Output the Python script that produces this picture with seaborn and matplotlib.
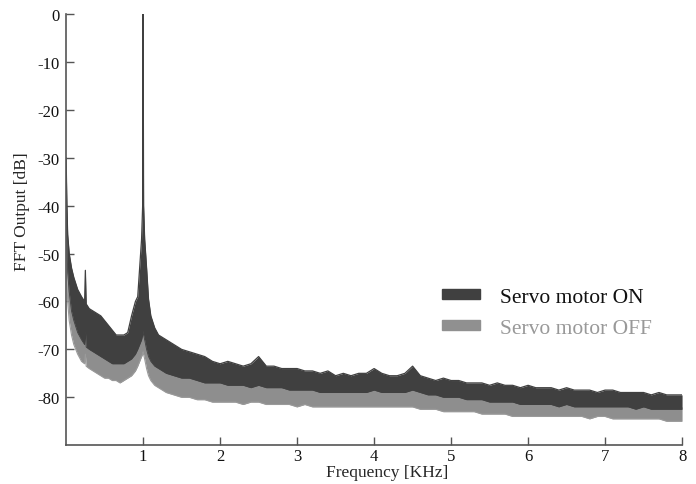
import numpy as np
import pandas as pd
import seaborn as sns
import matplotlib
matplotlib.use("Agg")
import matplotlib.pyplot as plt
from matplotlib.patches import Patch

# frequency grid [KHz]: dense part below 2 KHz, then 0.1 KHz steps
freq_lo = [0, 0.01, 0.02, 0.04, 0.07,
           0.1, 0.15, 0.2, 0.24, 0.25,
           0.26, 0.3, 0.35, 0.4, 0.45,
           0.5, 0.55, 0.6, 0.65, 0.7,
           0.75, 0.8, 0.85, 0.9, 0.93,
           0.955, 0.98, 0.994, 1.0, 1.006,
           1.02, 1.045, 1.07, 1.1, 1.15,
           1.2, 1.3, 1.4, 1.5, 1.6,
           1.7, 1.8, 1.9]
freq_hi = list(np.round(np.arange(2.0, 8.001, 0.1), 1))

# servo motor ON: top / bottom of the band [dB]
on_top_lo = [-30, -40, -46, -50, -53,
             -55, -57.5, -59, -60, -53.5,
             -60.5, -61.5, -62, -62.5, -63,
             -64, -65, -66, -67, -67,
             -67, -66.5, -63, -60, -59,
             -53, -47, -40, 0, -40,
             -47, -53, -59.5, -63, -65.5,
             -67, -68, -69, -70, -70.5,
             -71, -71.5, -72.5]
on_top_hi = [-73, -72.5, -73, -73.5, -73, -71.5, -73.5, -73.5, -74, -74,
             -74, -74.5, -74.5, -75, -74.5, -75.5, -75, -75.5, -75, -75,
             -74, -75, -75.5, -75.5, -75, -73.5, -75.5, -76, -76.5, -76,
             -76.5, -76.5, -77, -77, -77, -77.5, -77, -77.5, -77.5, -78,
             -77.5, -78, -78, -78, -78.5, -78, -78.5, -78.5, -78.5, -79,
             -78.5, -78.5, -79, -79, -79, -79, -79.5, -79, -79.5, -79.5,
             -79.5]
on_bot_lo = [-38, -48, -54, -58, -62,
             -64, -66.5, -68, -69, -66,
             -69.5, -70, -70.5, -71, -71.5,
             -72, -72.5, -73, -73, -73,
             -73, -72.5, -72, -71, -70,
             -69, -68, -67, -66, -67,
             -68, -70, -71.5, -72.5, -73.5,
             -74, -75, -75.5, -76, -76,
             -76.5, -77, -77]
on_bot_hi = [-77, -77.5, -77.5, -77.5, -78, -77.5, -78, -78, -78, -78.5,
             -78.5, -78.5, -78.5, -79, -79, -79, -79, -79, -79, -79,
             -78.5, -79, -79, -79, -79, -78.5, -79, -79.5, -79.5, -80,
             -80, -80, -80.5, -80.5, -80.5, -81, -81, -81, -81, -81.5,
             -81.5, -81.5, -81.5, -81.5, -82, -81.5, -82, -82, -82, -82,
             -82, -82, -82, -82, -82.5, -82, -82.5, -82.5, -82.5, -82.5,
             -82.5]

# servo motor OFF: top / bottom of the band [dB]
off_top_lo = [-32, -43, -49, -53, -56,
              -58, -60.5, -62, -63, -57,
              -63.5, -64.5, -65, -65.5, -66,
              -67, -68, -69, -70, -70,
              -70, -69.5, -66, -63, -62,
              -56, -50, -43, -2, -43,
              -50, -56, -62.5, -66, -68.5,
              -70, -71, -72, -73, -73.5,
              -74, -74.5, -75.5]
off_top_hi = [-76, -75.5, -76, -76.5, -76, -75, -76.5, -76.5, -77, -77,
              -77, -77.5, -77.5, -78, -77.5, -78, -78, -78, -78, -78,
              -77.5, -78, -78, -78, -78, -77.5, -78.5, -78.5, -79, -79,
              -79, -79, -79.5, -79.5, -79.5, -80, -79.5, -80, -80, -80.5,
              -80, -80.5, -80.5, -80.5, -81, -80.5, -81, -81, -81, -81.5,
              -81, -81, -81.5, -81.5, -81.5, -81.5, -82, -81.5, -82, -82,
              -82]
off_bot_lo = [-45, -55, -60, -64, -67,
              -69, -71, -72.5, -73, -71,
              -73.5, -74, -74.5, -75, -75.5,
              -76, -76, -76.5, -76.5, -77,
              -76.5, -76, -75.5, -74.5, -73.5,
              -72.5, -71.5, -71, -70.5, -71,
              -72, -74, -75.5, -76.5, -77.5,
              -78, -79, -79.5, -80, -80,
              -80.5, -80.5, -81]
off_bot_hi = [-81, -81, -81, -81.5, -81, -81, -81.5, -81.5, -81.5, -81.5,
              -82, -81.5, -82, -82, -82, -82, -82, -82, -82, -82,
              -82, -82, -82, -82, -82, -82, -82.5, -82.5, -82.5, -83,
              -83, -83, -83, -83, -83.5, -83.5, -83.5, -83.5, -84, -84,
              -84, -84, -84, -84, -84, -84, -84, -84, -84.5, -84,
              -84, -84.5, -84.5, -84.5, -84.5, -84.5, -84.5, -84.5, -85, -85,
              -85]

x_ticks = [1, 2, 3, 4, 5, 6, 7, 8]
y_ticks = [0, -10, -20, -30, -40, -50, -60, -70, -80]
labels = ["Servo motor ON", "Servo motor OFF"]

freq = freq_lo + freq_hi
df = pd.DataFrame({
    "freq": freq,
    "on_top": on_top_lo + on_top_hi,
    "on_bot": on_bot_lo + on_bot_hi,
    "off_top": off_top_lo + off_top_hi,
    "off_bot": off_bot_lo + off_bot_hi,
})

sns.set_theme(style="ticks")
plt.rcParams["font.family"] = ["Liberation Serif", "DejaVu Serif"]
plt.rcParams["axes.unicode_minus"] = False

c_on = "#404040"
c_off = "#8e8e8e"
c_axis = "#555555"

fig = plt.figure(figsize=(6.96, 4.85), dpi=100)
ax = fig.add_axes([0.095, 0.08, 0.885, 0.889])

# OFF behind, ON on top
ax.fill_between(df["freq"], df["off_bot"], df["off_top"], color=c_off, lw=0)
sns.lineplot(data=df, x="freq", y="off_bot", ax=ax, color="#9a9a9a", lw=0.8)
ax.fill_between(df["freq"], df["on_bot"], df["on_top"], color=c_on, lw=0)
sns.lineplot(data=df, x="freq", y="on_top", ax=ax, color=c_on, lw=0.9)
sns.lineplot(data=df, x="freq", y="on_bot", ax=ax, color=c_on, lw=0.6)

ax.set_xlim(0, 8)
ax.set_ylim(-90, 0)
ax.set_xticks(x_ticks)
ax.set_yticks(y_ticks)
ax.set_xlabel("Frequency [KHz]", fontsize=12.5)
ax.set_ylabel("FFT Output [dB]", fontsize=12.5)
ax.xaxis.set_label_coords(0.521, -0.043)
ax.yaxis.set_label_coords(-0.058, 0.543)
ax.tick_params(direction="in", length=6, width=1, color=c_axis,
               labelsize=12, labelcolor="#111111")
ax.tick_params(axis="x", pad=2)
ax.tick_params(axis="y", pad=5)
for s in ["top", "right"]:
    ax.spines[s].set_visible(False)
for s in ["left", "bottom"]:
    ax.spines[s].set_color(c_axis)
    ax.spines[s].set_linewidth(1.2)

handles = [Patch(color=c_on), Patch(color="#909090")]
fig.legend(handles, labels, loc="center left", bbox_to_anchor=(0.619, 0.353),
           bbox_transform=fig.transFigure, frameon=False, borderpad=0,
           fontsize=15.5, handlelength=1.77, handleheight=0.37,
           handletextpad=0.93, labelspacing=0.55,
           labelcolor=["#111111", "#999999"])

fig.savefig("out.png", dpi=100)
